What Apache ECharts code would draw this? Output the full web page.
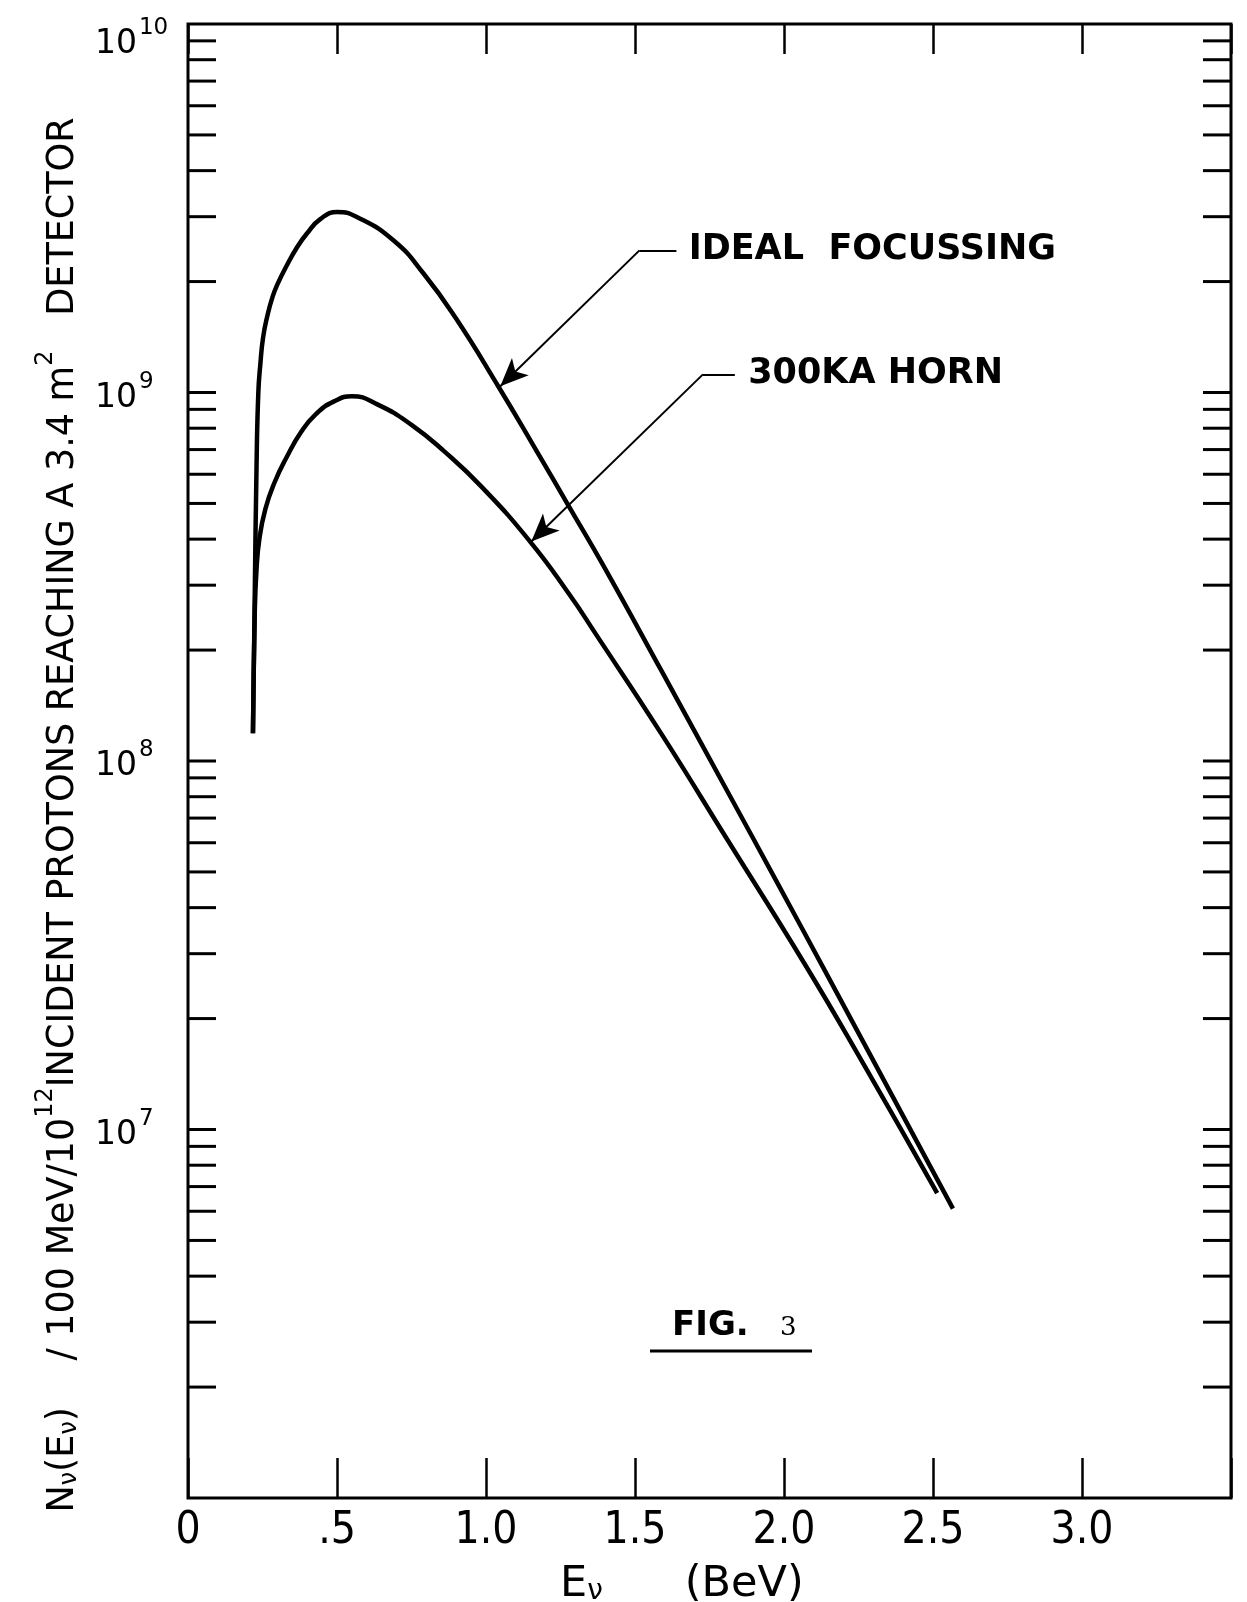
<!DOCTYPE html>
<html>
<head>
<meta charset="utf-8">
<script src="https://cdn.jsdelivr.net/npm/echarts@6/dist/echarts.min.js"></script>
<style>
  html, body { margin: 0; padding: 0; background: #fff; }
  #chart { width: 1247px; height: 1602px; }
</style>
</head>
<body>
<div id="chart"></div>
<script>
// 读图得到的数据：能量 (BeV) 与中微子数
const idealE = [0.218, 0.224, 0.230, 0.236, 0.243, 0.252, 0.266, 0.284, 0.302, 0.330, 0.365, 0.399, 0.445, 0.501, 0.568, 0.691, 0.791, 0.899, 1.041, 1.172, 1.284, 1.393, 1.590, 1.810, 1.974, 2.138, 2.269, 2.567];
const idealN = [1.19e8, 2.82e8, 6.31e8, 1.0e9, 1.20e9, 1.41e9, 1.61e9, 1.82e9, 1.98e9, 2.20e9, 2.47e9, 2.70e9, 2.96e9, 3.09e9, 2.99e9, 2.58e9, 2.10e9, 1.59e9, 1.04e9, 6.89e8, 4.82e8, 3.40e8, 1.75e8, 8.28e7, 4.73e7, 2.69e7, 1.71e7, 6.1e6];

const hornE = [0.218, 0.224, 0.230, 0.240, 0.260, 0.290, 0.330, 0.380, 0.430, 0.490, 0.550, 0.637, 0.750, 0.860, 0.983, 1.148, 1.280, 1.367, 1.587, 1.807, 2.071, 2.268, 2.514];
const hornN = [1.19e8, 2.51e8, 3.31e8, 4.03e8, 4.84e8, 5.69e8, 6.65e8, 7.82e8, 8.75e8, 9.46e8, 9.77e8, 9.27e8, 8.17e8, 6.92e8, 5.57e8, 3.94e8, 2.83e8, 2.22e8, 1.19e8, 6.17e7, 2.80e7, 1.50e7, 6.72e6];

// 坐标轴刻度
const xTickLabels = { 0: "0", 0.5: ".5", 1: "1.0", 1.5: "1.5", 2: "2.0", 2.5: "2.5", 3: "3.0", 3.5: "" };
const yDecades = [6, 7, 8, 9];
const yMinorSteps = [1, 2, 3, 4, 5, 6, 7, 8, 9];

// 标注：折线箭头 [标签端, 拐点, 箭头尖]
const idealArrow = [[1.639, 2.43e9], [1.515, 2.43e9], [1.048, 1.04e9]];
const hornArrow = [[1.835, 1.12e9], [1.728, 1.12e9], [1.152, 3.94e8]];
const idealLabelAt = [1.68, 2.43e9];
const hornLabelAt = [1.88, 1.12e9];

const FONT = "'DejaVu Sans Condensed', 'DejaVu Sans', sans-serif";
const TFONT = "'DejaVu Sans', sans-serif";

let yTicks = [];
yDecades.forEach(function (d) {
	yMinorSteps.forEach(function (m) {
		const v = m * Math.pow(10, d);
		if (v > 1e6 && v < 1e10) yTicks.push([0, v]);
	});
});

let myChart = echarts.init(document.getElementById("chart"), null, { renderer: "canvas" });

function arrowLines(pts) {
	return [
		[{ coord: pts[0], symbol: "none" }, { coord: pts[1], symbol: "none" }],
		[{ coord: pts[1], symbol: "none" }, { coord: pts[2], symbol: "arrow" }],
	];
}

function labelPoint(at, text) {
	return {
		coord: at,
		symbol: "circle",
		symbolSize: 0,
		label: {
			show: true,
			position: "right",
			distance: 0,
			formatter: text,
			color: "#000",
			fontFamily: TFONT,
			fontWeight: "bold",
			fontSize: 35,
		},
	};
}

const option = {
	animation: false,
	backgroundColor: "#fff",
	grid: {
		left: 188,
		right: 16,
		top: 24,
		bottom: 104,
		outerBoundsMode: "none",
		show: true,
		borderColor: "#000",
		borderWidth: 3,
		backgroundColor: "transparent",
	},
	xAxis: [
		{
			type: "value",
			min: 0,
			max: 3.5,
			interval: 0.5,
			position: "bottom",
			axisLine: { show: false },
			splitLine: { show: false },
			axisTick: { show: true, inside: true, length: 40, lineStyle: { color: "#000", width: 2.5 } },
			axisLabel: {
				margin: 12,
				color: "#000",
				fontFamily: FONT,
				fontSize: 44,
				showMinLabel: true,
				showMaxLabel: true,
				formatter: function (v) {
					return xTickLabels[v] !== undefined ? xTickLabels[v] : "";
				},
			},
		},
		{
			type: "value",
			min: 0,
			max: 3.5,
			interval: 0.5,
			position: "top",
			axisLine: { show: false },
			splitLine: { show: false },
			axisTick: { show: true, inside: true, length: 30, lineStyle: { color: "#000", width: 2.5 } },
			axisLabel: { show: false },
		},
	],
	yAxis: [
		{
			type: "log",
			logBase: 10,
			min: 1e6,
			max: 1e10,
			axisLine: { show: false },
			axisTick: { show: false },
			splitLine: { show: false },
			axisLabel: {
				align: "left",
				margin: 93,
				color: "#000",
				showMinLabel: true,
				showMaxLabel: true,
				formatter: function (v) {
					const e = Math.round(Math.log10(v));
					if (e <= 6) return "";
					// 顶端标签在原图中略低于刻度
					if (e === 10) return "{sp| }\n{b|10}{e|10}";
					return "{b|10}{e|" + e + "}";
				},
				rich: {
					sp: { fontSize: 10, lineHeight: 30 },
					b: { fontFamily: TFONT, fontSize: 33, lineHeight: 44, verticalAlign: "bottom", color: "#000" },
					e: { fontFamily: TFONT, fontSize: 23, lineHeight: 22, verticalAlign: "top", color: "#000", padding: [0, 0, 0, 2] },
				},
			},
		},
	],
	series: [
		{
			name: "IDEAL FOCUSSING",
			type: "line",
			smooth: 0.5,
			symbol: "none",
			lineStyle: { color: "#000", width: 4.5 },
			data: idealE.map(function (e, i) { return [e, idealN[i]]; }),
			markLine: {
				silent: true,
				animation: false,
				symbolSize: [18, 28],
				label: { show: false },
				lineStyle: { color: "#000", width: 2, type: "solid" },
				data: arrowLines(idealArrow),
			},
			markPoint: { silent: true, animation: false, data: [labelPoint(idealLabelAt, "IDEAL  FOCUSSING")] },
		},
		{
			name: "300KA HORN",
			type: "line",
			smooth: 0.5,
			symbol: "none",
			lineStyle: { color: "#000", width: 4.5 },
			data: hornE.map(function (e, i) { return [e, hornN[i]]; }),
			markLine: {
				silent: true,
				animation: false,
				symbolSize: [18, 28],
				label: { show: false },
				lineStyle: { color: "#000", width: 2, type: "solid" },
				data: arrowLines(hornArrow),
			},
			markPoint: { silent: true, animation: false, data: [labelPoint(hornLabelAt, "300KA HORN")] },
		},
		{
			// 对数轴小刻度（左右两侧，朝内）
			type: "custom",
			silent: true,
			clip: false,
			data: yTicks,
			renderItem: function (params, api) {
				const pt = api.coord([0, api.value(1)]);
				const cs = params.coordSys;
				const len = 28;
				return {
					type: "group",
					children: [
						{ type: "line", shape: { x1: cs.x, y1: pt[1], x2: cs.x + len, y2: pt[1] }, style: { stroke: "#000", lineWidth: 3 } },
						{ type: "line", shape: { x1: cs.x + cs.width - len, y1: pt[1], x2: cs.x + cs.width, y2: pt[1] }, style: { stroke: "#000", lineWidth: 3 } },
					],
				};
			},
		},
	],
	graphic: [
		{
			type: "text",
			x: 58,
			y: 815,
			rotation: Math.PI / 2,
			style: {
				text: "{t|N}{s|ν}{t|(E}{s|ν}{t|)    / 100 MeV/10}{u|12}{t|INCIDENT PROTONS REACHING A 3.4 m}{u|2}{t|   DETECTOR}",
				align: "center",
				verticalAlign: "middle",
				fill: "#000",
				rich: {
					t: { fontFamily: TFONT, fontSize: 36.5, lineHeight: 48, verticalAlign: "bottom", fill: "#000" },
					s: { fontFamily: TFONT, fontSize: 24, lineHeight: 28, verticalAlign: "bottom", fill: "#000" },
					u: { fontFamily: TFONT, fontSize: 24, lineHeight: 28, verticalAlign: "top", fill: "#000" },
				},
			},
		},
		{
			type: "text",
			x: 560,
			y: 1578,
			style: {
				text: "{t|E}{s|ν}{t|      (BeV)}",
				align: "left",
				verticalAlign: "middle",
				fill: "#000",
				rich: {
					t: { fontFamily: TFONT, fontSize: 43, lineHeight: 56, verticalAlign: "bottom", fill: "#000" },
					s: { fontFamily: TFONT, fontSize: 28, lineHeight: 30, verticalAlign: "bottom", fill: "#000" },
				},
			},
		},
		{
			type: "text",
			x: 672,
			y: 1326,
			style: { text: "FIG.", fontFamily: TFONT, fontWeight: "bold", fontSize: 34, fill: "#000", align: "left", verticalAlign: "middle" },
		},
		{
			type: "text",
			x: 780,
			y: 1328,
			style: { text: "3", fontFamily: "'DejaVu Serif', serif", fontSize: 26, fill: "#000", align: "left", verticalAlign: "middle" },
		},
		{
			type: "line",
			shape: { x1: 650, y1: 1351, x2: 812, y2: 1351 },
			style: { stroke: "#000", lineWidth: 3 },
		},
	],
};

myChart.setOption(option);
</script>
</body>
</html>
